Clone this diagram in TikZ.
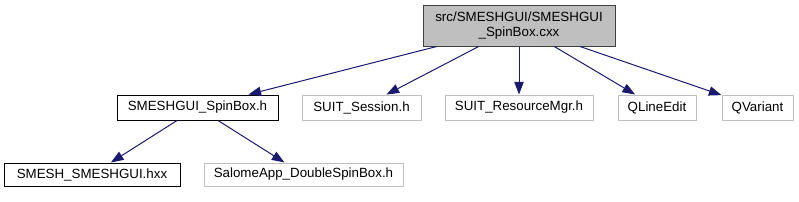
\documentclass[tikz,border=0pt]{standalone}
\usepackage{fontspec}
\setmainfont{Liberation Sans}
\usetikzlibrary{arrows.meta}
\definecolor{edgeblue}{HTML}{191970}
\definecolor{lgray}{HTML}{BFBFBF}
\begin{document}
\begin{tikzpicture}[x=0.75pt,y=-0.75pt,
  box/.style={draw=black,line width=0.75pt,fill=white,inner sep=0pt,font=\fontsize{10}{11.5}\selectfont,minimum height=25*0.75pt,anchor=center},
  graybox/.style={box,draw=lgray},
  topbox/.style={box,draw=black!75,fill=lgray,align=center},
  edge/.style={draw=edgeblue,line width=0.75pt,-{Triangle[length=9.5pt,width=7pt]}}]
\useasboundingbox (0,0) rectangle (799,201);
\node[topbox,minimum width=192*0.75pt,minimum height=41*0.75pt] (top) at (519,25.5) {src/SMESHGUI/SMESHGUI\\\_SpinBox.cxx};
\node[box,minimum width=161*0.75pt] (spin) at (197.5,107.5) {SMESHGUI\_SpinBox.h};
\node[graybox,minimum width=119*0.75pt] (session) at (361.5,107.5) {SUIT\_Session.h};
\node[graybox,minimum width=148*0.75pt] (resmgr) at (519,107.5) {SUIT\_ResourceMgr.h};
\node[graybox,minimum width=78*0.75pt] (qline) at (657,107.5) {QLineEdit};
\node[graybox,minimum width=71*0.75pt] (qvar) at (757.5,107.5) {QVariant};
\node[box,minimum width=176*0.75pt,minimum height=23*0.75pt] (hxx) at (92,174.5) {SMESH\_SMESHGUI.hxx};
\node[graybox,minimum width=199*0.75pt,minimum height=23*0.75pt] (dsb) at (303.5,174.5) {SalomeApp\_DoubleSpinBox.h};
\draw[edge] (top) -- (spin);
\draw[edge] (top) -- (session);
\draw[edge] (top) -- (resmgr);
\draw[edge] (top) -- (qline);
\draw[edge] (top) -- (qvar);
\draw[edge] (spin) -- (hxx);
\draw[edge] (spin) -- (dsb);
\end{tikzpicture}
\end{document}
